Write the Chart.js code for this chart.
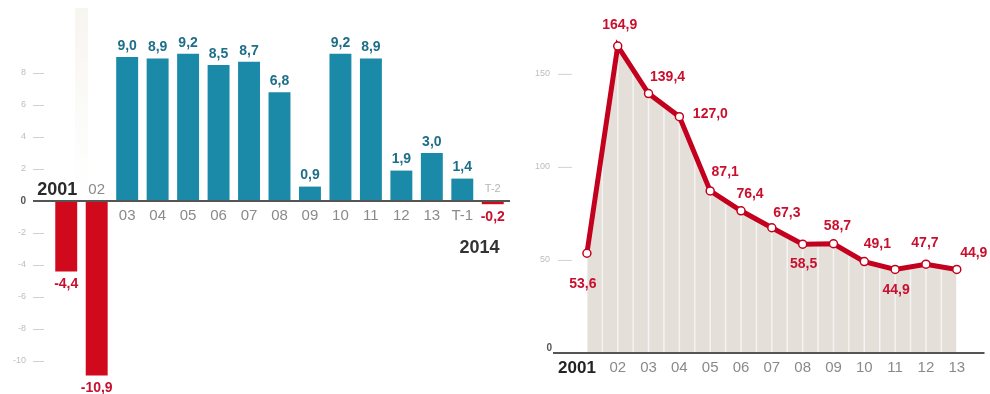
<!DOCTYPE html>
<html>
<head>
<meta charset="utf-8">
<script src="https://cdn.jsdelivr.net/npm/chart.js@4/dist/chart.umd.min.js"></script>
<style>
  html, body { margin: 0; padding: 0; background: #fff; }
  #wrap { position: relative; width: 990px; height: 394px; overflow: hidden; }
  #growth { position: absolute; left: 0; top: 0; }
  #debt { position: absolute; left: 520px; top: 0; }
</style>
</head>
<body>
<div id="wrap">
  <canvas id="growth" width="520" height="394"></canvas>
  <canvas id="debt" width="470" height="394"></canvas>
</div>
<script>
// PIB: variacion anual (%)
const growthYears = ['2001', '02', '03', '04', '05', '06', '07', '08', '09', '10', '11', '12', '13', 'T-1', 'T-2'];
const growthValues = [-4.4, -10.9, 9.0, 8.9, 9.2, 8.5, 8.7, 6.8, 0.9, 9.2, 8.9, 1.9, 3.0, 1.4, -0.2];
const growthTicks = [8, 6, 4, 2, 0, -2, -4, -6, -8, -10];
const growthPeriod = '2014';

// deuda publica (% del PIB)
const debtYears = ['2001', '02', '03', '04', '05', '06', '07', '08', '09', '10', '11', '12', '13'];
const debtValues = [53.6, 164.9, 139.4, 127.0, 87.1, 76.4, 67.3, 58.5, 58.7, 49.1, 44.9, 47.7, 44.9];
const debtTicks = [0, 50, 100, 150];

// where each debt label sits relative to its point
const debtLabelOffsets = [[-4, 31], [2, -21], [19, -16], [31, -2], [15, -19], [9, -17], [15, -15],
  [1, 20], [4, -18], [13, -17], [1, 21], [-1, -21], [17, -16]];

const FONT = '"Liberation Sans", Arial, sans-serif';
const TEAL = '#1a8aa8';
const RED = '#d00a1c';
const LABEL_RED = '#c8102e';

const fmt = v => v.toFixed(1).replace('.', ',');

const growthDecor = {
  id: 'growthDecor',
  beforeDraw(chart) {
    // faint shadow band behind the first bars
    const ctx = chart.ctx;
    const g = ctx.createLinearGradient(0, 8, 0, 195);
    g.addColorStop(0, 'rgba(236,233,222,0.45)');
    g.addColorStop(1, 'rgba(236,233,222,0)');
    ctx.save();
    ctx.fillStyle = g;
    ctx.fillRect(75, 8, 13, 187);
    ctx.restore();
  },
  afterDraw(chart) {
    const ctx = chart.ctx;
    const xs = chart.scales.x;
    const ys = chart.scales.y;
    const y0 = ys.getPixelForValue(0);
    ctx.save();

    // y axis: small dashes and light labels
    ctx.textAlign = 'right';
    ctx.textBaseline = 'middle';
    growthTicks.forEach(t => {
      const y = ys.getPixelForValue(t);
      ctx.strokeStyle = '#cfcfcf';
      ctx.lineWidth = 1;
      if (t !== 0) {
        ctx.beginPath();
        ctx.moveTo(33, y + 0.5);
        ctx.lineTo(44, y + 0.5);
        ctx.stroke();
      }
      ctx.fillStyle = t === 0 ? '#555' : '#bdbdbd';
      ctx.font = (t === 0 ? 'bold 10px ' : '9px ') + FONT;
      ctx.fillText(String(t), 26, y);
    });

    // zero line
    ctx.strokeStyle = '#555';
    ctx.lineWidth = 2;
    ctx.beginPath();
    ctx.moveTo(33, y0);
    ctx.lineTo(chart.chartArea.right + 2, y0);
    ctx.stroke();

    const last = growthYears.length - 1;
    growthValues.forEach((v, i) => {
      const x = xs.getPixelForValue(i);
      const yv = ys.getPixelForValue(v);

      // value above / below the bar
      ctx.font = 'bold 14px ' + FONT;
      ctx.textAlign = 'center';
      ctx.fillStyle = v < 0 ? LABEL_RED : '#1d6f87';
      if (v < 0) {
        ctx.textBaseline = 'top';
        ctx.fillText(fmt(v), x, yv + 6);
      } else {
        ctx.textBaseline = 'bottom';
        ctx.fillText(fmt(v), x, yv - 4);
      }

      // category on the opposite side of the zero line
      ctx.textBaseline = 'middle';
      const ly = v < 0 ? y0 - 11 : y0 + 15;
      if (i === 0) {
        ctx.font = 'bold 18px ' + FONT;
        ctx.fillStyle = '#2a2a2a';
        ctx.textAlign = 'right';
        ctx.fillText(growthYears[i], x + 11, ly);
      } else if (i === last) {
        ctx.font = '11px ' + FONT;
        ctx.fillStyle = '#b5b5b5';
        ctx.fillText(growthYears[i], x, ly - 1);
      } else {
        ctx.font = '15px ' + FONT;
        ctx.fillStyle = '#8a8a8a';
        ctx.fillText(growthYears[i], x, ly);
      }
    });

    // current year under the quarters
    const px = (xs.getPixelForValue(last - 1) + xs.getPixelForValue(last)) / 2 + 2;
    ctx.font = 'bold 18px ' + FONT;
    ctx.fillStyle = '#333';
    ctx.textAlign = 'center';
    ctx.textBaseline = 'middle';
    ctx.fillText(growthPeriod, px, y0 + 47);
    ctx.restore();
  }
};

new Chart(document.getElementById('growth'), {
  type: 'bar',
  data: {
    labels: growthYears,
    datasets: [{
      data: growthValues,
      backgroundColor: growthValues.map(v => v < 0 ? RED : TEAL),
      borderWidth: 0,
      barPercentage: 0.72,
      categoryPercentage: 1
    }]
  },
  options: {
    responsive: false,
    animation: false,
    layout: { padding: { left: 51, right: 12, top: 41, bottom: 1 } },
    plugins: { legend: { display: false }, tooltip: { enabled: false } },
    scales: {
      x: { display: false },
      y: { display: false, min: -12, max: 10 }
    }
  },
  plugins: [growthDecor]
});

const debtPoints = debtValues.map((v, i) => ({ x: i, y: v }));

const debtDecor = {
  id: 'debtDecor',
  afterDatasetDraw(chart, args) {
    if (args.index !== 1) return;
    // light column stripes inside the shaded area
    const ctx = chart.ctx;
    const xs = chart.scales.x;
    const ys = chart.scales.y;
    const y0 = ys.getPixelForValue(0);
    ctx.save();
    ctx.strokeStyle = 'rgba(255,255,255,0.65)';
    ctx.lineWidth = 1.5;
    for (let s = 0; s <= (debtValues.length - 1) * 2; s++) {
      const k = s / 2;
      const a = Math.floor(k), b = Math.min(a + 1, debtValues.length - 1);
      const v = debtValues[a] + (debtValues[b] - debtValues[a]) * (k - a);
      const x = xs.getPixelForValue(k);
      ctx.beginPath();
      ctx.moveTo(x, y0);
      ctx.lineTo(x, ys.getPixelForValue(v) + 3);
      ctx.stroke();
    }
    ctx.restore();
  },
  afterDraw(chart) {
    const ctx = chart.ctx;
    const xs = chart.scales.x;
    const ys = chart.scales.y;
    const y0 = ys.getPixelForValue(0);
    ctx.save();

    // baseline
    ctx.strokeStyle = '#555';
    ctx.lineWidth = 2;
    ctx.beginPath();
    ctx.moveTo(chart.chartArea.left, y0);
    ctx.lineTo(chart.chartArea.right, y0);
    ctx.stroke();

    // y axis labels and dashes
    ctx.textAlign = 'right';
    ctx.textBaseline = 'middle';
    debtTicks.forEach(t => {
      const y = ys.getPixelForValue(t);
      if (t === 0) {
        ctx.font = 'bold 10px ' + FONT;
        ctx.fillStyle = '#555';
        ctx.fillText('0', 32, y - 5);
        return;
      }
      ctx.font = '9px ' + FONT;
      ctx.fillStyle = '#bdbdbd';
      ctx.fillText(String(t), 30, y);
      ctx.strokeStyle = '#d2d2d2';
      ctx.lineWidth = 1;
      ctx.beginPath();
      ctx.moveTo(38, y + 0.5);
      ctx.lineTo(52, y + 0.5);
      ctx.stroke();
    });

    // years
    debtYears.forEach((lab, i) => {
      const x = xs.getPixelForValue(i);
      if (i === 0) {
        ctx.font = 'bold 17px ' + FONT;
        ctx.fillStyle = '#222';
        ctx.textAlign = 'right';
        ctx.fillText(lab, x + 9, y0 + 15);
      } else {
        ctx.font = '15px ' + FONT;
        ctx.fillStyle = '#8a8a8a';
        ctx.textAlign = 'center';
        ctx.fillText(lab, x, y0 + 15);
      }
    });

    // values
    ctx.font = 'bold 14px ' + FONT;
    ctx.fillStyle = LABEL_RED;
    ctx.textAlign = 'center';
    debtValues.forEach((v, i) => {
      const [dx, dy] = debtLabelOffsets[i];
      ctx.fillText(fmt(v), xs.getPixelForValue(i) + dx, ys.getPixelForValue(v) + dy);
    });
    ctx.restore();
  }
};

new Chart(document.getElementById('debt'), {
  type: 'line',
  data: {
    datasets: [{
      data: debtPoints,
      borderColor: '#c4001f',
      borderWidth: 5,
      tension: 0,
      pointRadius: 4,
      pointBorderWidth: 1.5,
      pointBackgroundColor: '#fff',
      pointBorderColor: '#c4001f',
      fill: false,
      order: 0
    }, {
      data: debtPoints,
      borderWidth: 0,
      pointRadius: 0,
      backgroundColor: '#e4dfd9',
      fill: 'origin',
      order: 1
    }]
  },
  options: {
    responsive: false,
    animation: false,
    layout: { padding: { left: 33, right: 5, top: 18, bottom: 41 } },
    plugins: { legend: { display: false }, tooltip: { enabled: false } },
    scales: {
      x: { type: 'linear', display: false, min: -1.1, max: 12.9 },
      y: { display: false, min: 0, max: 180 }
    }
  },
  plugins: [debtDecor]
});
</script>
</body>
</html>
